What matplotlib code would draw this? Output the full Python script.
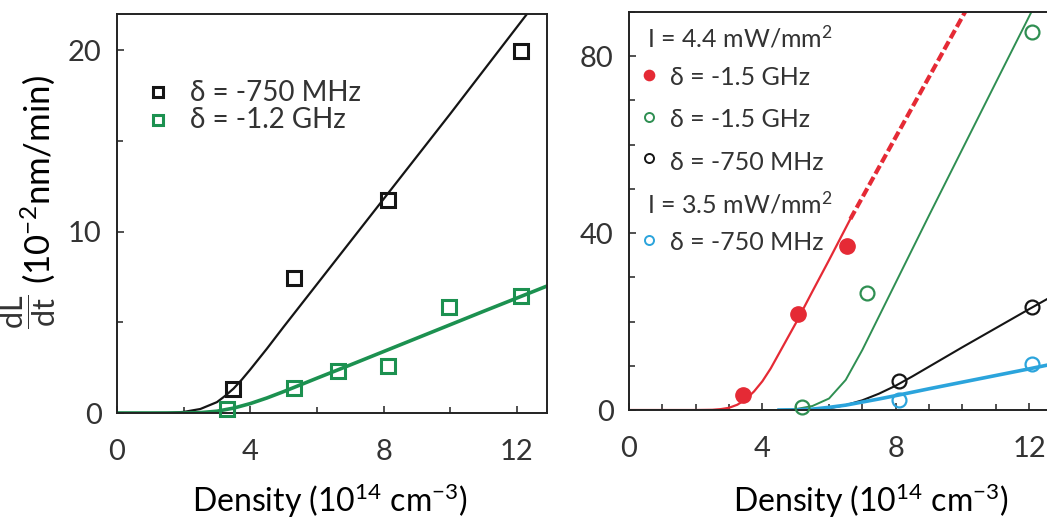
import matplotlib
matplotlib.use("Agg")
import matplotlib.pyplot as plt
from matplotlib.ticker import MultipleLocator

plt.rcParams['font.family'] = ['Lato', 'DejaVu Sans']
plt.rcParams['mathtext.fontset'] = 'custom'
plt.rcParams['mathtext.rm'] = 'Lato'
plt.rcParams['mathtext.it'] = 'Lato:italic'
plt.rcParams['text.color'] = '#333333'

# ---- left panel data ----
left_black_x = [3.47, 5.3, 8.12, 12.12]
left_black_y = [1.3, 7.45, 11.75, 19.95]
left_green_x = [3.3, 5.3, 6.62, 8.12, 9.95, 12.12]
left_green_y = [0.2, 1.4, 2.3, 2.6, 5.85, 6.45]

# fit curves
left_black_fit_x = [0, 1.0, 1.5, 2.0, 2.5, 3.0, 3.25, 3.5, 3.75, 4.0, 4.5, 5.0, 6.0, 8.0, 10.0, 12.3]
left_black_fit_y = [0, 0, 0.01, 0.06, 0.22, 0.6, 0.95, 1.35, 1.85, 2.4, 3.55, 4.75, 7.1, 11.8, 16.5, 22.0]
left_green_fit_x = [0, 2.0, 2.5, 3.0, 3.5, 4.0, 4.5, 5.0, 6.0, 7.0, 8.0, 9.0, 10.0, 11.0, 12.0, 12.9]
left_green_fit_y = [0, 0, 0.02, 0.1, 0.27, 0.52, 0.83, 1.18, 1.92, 2.65, 3.39, 4.13, 4.87, 5.61, 6.34, 7.0]

# ---- right panel data ----
red_x = [3.43, 5.08, 6.54]
red_y = [3.5, 21.7, 37.1]
green_x = [5.2, 7.15, 12.08]
green_y = [0.6, 26.5, 85.5]
black_x = [8.09, 12.09]
black_y = [6.5, 23.3]
blue_x = [8.09, 12.09]
blue_y = [2.2, 10.5]

red_fit_x = [0, 2.0, 2.5, 2.75, 3.0, 3.25, 3.5, 3.75, 4.0, 4.25, 4.5, 5.0, 5.5, 6.0, 6.64]
red_fit_y = [0, 0, 0.05, 0.2, 0.5, 1.2, 2.4, 4.2, 6.5, 9.4, 12.8, 19.6, 26.8, 33.9, 43.2]
red_dash_x = [6.64, 10.08]
red_dash_y = [43.2, 90]
green_fit_x = [0, 4.5, 5.0, 5.5, 6.0, 6.5, 7.0, 7.5, 8.0, 9.0, 10.0, 11.0, 12.07]
green_fit_y = [0, 0, 0.2, 0.9, 2.6, 6.8, 13.6, 21.2, 28.8, 44.0, 59.0, 74.0, 90.0]
black_fit_x = [5.0, 5.5, 6.0, 6.5, 7.0, 7.5, 8.0, 8.5, 9.0, 10.0, 11.0, 12.0, 12.9]
black_fit_y = [0, 0.1, 0.4, 1.1, 2.2, 3.7, 5.5, 7.6, 9.8, 14.2, 18.5, 22.8, 26.6]
blue_fit_x = [4.5, 5.0, 5.5, 6.0, 6.5, 7.0, 7.5, 8.0, 9.0, 10.0, 11.0, 12.0, 12.9]
blue_fit_y = [0, 0.02, 0.2, 0.6, 1.1, 1.8, 2.5, 3.25, 4.8, 6.3, 7.8, 9.3, 10.7]

xlabel = r'Density (10$^{14}$ cm$^{-3}$)'

c_black = '#151515'
c_green_l = '#1c9150'
c_green_r = '#2f8f52'
c_red = '#e52a35'
c_blue = '#2ba4dc'

fig = plt.figure(figsize=(10.47, 5.27), dpi=100)

def style_axes(ax, xminor, ymajor, yminor):
    for s in ax.spines.values():
        s.set_linewidth(1.4)
        s.set_color('#222222')
    ax.xaxis.set_major_locator(MultipleLocator(4))
    ax.xaxis.set_minor_locator(MultipleLocator(xminor))
    ax.yaxis.set_major_locator(MultipleLocator(ymajor))
    ax.yaxis.set_minor_locator(MultipleLocator(yminor))
    ax.tick_params(which='both', direction='in', top=False, right=False, width=1.2, color='#333333')
    ax.tick_params(which='major', length=5)
    ax.tick_params(which='minor', length=4)
    ax.tick_params(axis='x', which='major', pad=19, labelsize=21, labelcolor='#333333')
    ax.tick_params(axis='y', which='major', pad=11, labelsize=21, labelcolor='#333333')

# ---------------- left ----------------
ax1 = fig.add_axes([0.1117, 0.2163, 0.4107, 0.7571])
ax1.plot(left_black_fit_x, left_black_fit_y, color=c_black, lw=1.6, zorder=2)
ax1.plot(left_green_fit_x, left_green_fit_y, color=c_green_l, lw=2.6, zorder=2)
ax1.plot(left_black_x, left_black_y, 's', ms=9.5, mfc='none', mec=c_black, mew=2.2, zorder=3, clip_on=False)
ax1.plot(left_green_x, left_green_y, 's', ms=9.5, mfc='none', mec=c_green_l, mew=2.2, zorder=3, clip_on=False)
ax1.set_xlim(0, 12.9)
ax1.set_ylim(0, 22)
style_axes(ax1, 2, 10, 5)
ax1.set_xlabel(xlabel, fontsize=23)
ax1.xaxis.set_label_coords(0.495, -0.172)
ax1.set_ylabel(r'(10$^{-2}$nm/min)', fontsize=25)
ax1.yaxis.set_label_coords(-0.14, 0.586)
# dL/dt fraction sits in front of the unit text, raised a little
ax1.text(-0.206, 0.255, r'$\dfrac{\mathrm{dL}}{\mathrm{dt}}$', fontsize=22, rotation=90,
         ha='center', va='center', transform=ax1.transAxes, clip_on=False)

# legend (left)
leg_left = [('s', c_black, 'δ = -750 MHz', 0.805, 0.783),
            ('s', c_green_l, 'δ = -1.2 GHz', 0.734, 0.714)]
for m, c, label, ym, yt in leg_left:
    ax1.plot([0.0956], [ym], m, ms=7.5, mfc='none', mec=c, mew=2.2, transform=ax1.transAxes, clip_on=False)
    ax1.text(0.17, yt, label, fontsize=20, transform=ax1.transAxes, va='baseline', ha='left')

# ---------------- right ----------------
ax2 = fig.add_axes([0.6008, 0.222, 0.4107, 0.7552])
ax2.plot(red_fit_x, red_fit_y, color=c_red, lw=1.6, zorder=2)
ax2.plot(red_dash_x, red_dash_y, color=c_red, lw=3.0, ls=(0, (2.2, 0.9)), zorder=2)
ax2.plot(green_fit_x, green_fit_y, color=c_green_r, lw=1.4, zorder=2)
ax2.plot(black_fit_x, black_fit_y, color=c_black, lw=1.5, zorder=2)
ax2.plot(blue_fit_x, blue_fit_y, color=c_blue, lw=2.6, zorder=2)
ax2.plot(red_x, red_y, 'o', ms=11, mfc=c_red, mec=c_red, zorder=3, clip_on=False)
ax2.plot(green_x, green_y, 'o', ms=10, mfc='none', mec=c_green_r, mew=1.6, zorder=3, clip_on=False)
ax2.plot(black_x, black_y, 'o', ms=10, mfc='none', mec=c_black, mew=1.6, zorder=3, clip_on=False)
ax2.plot(blue_x, blue_y, 'o', ms=10, mfc='none', mec=c_blue, mew=1.6, zorder=3, clip_on=False)
ax2.set_xlim(0, 12.9)
ax2.set_ylim(0, 90)
style_axes(ax2, 1, 40, 10)
ax2.set_xlabel(xlabel, fontsize=23)
ax2.xaxis.set_label_coords(0.563, -0.178)

# legend (right)
ax2.text(0.041, 0.912, r'I = 4.4 mW/mm$^2$', fontsize=18, transform=ax2.transAxes, va='baseline')
ax2.text(0.041, 0.494, r'I = 3.5 mW/mm$^2$', fontsize=18, transform=ax2.transAxes, va='baseline')
leg_right = [(c_red, True, 'δ = -1.5 GHz', 0.841, 0.816),
             (c_green_r, False, 'δ = -1.5 GHz', 0.736, 0.711),
             (c_black, False, 'δ = -750 MHz', 0.632, 0.603),
             (c_blue, False, 'δ = -750 MHz', 0.427, 0.402)]
for c, filled, label, ym, yt in leg_right:
    ax2.plot([0.046], [ym], 'o', ms=7 if filled else 6.5, mfc=c if filled else 'none', mec=c, mew=1.4,
             transform=ax2.transAxes, clip_on=False)
    ax2.text(0.0953, yt, label, fontsize=18, transform=ax2.transAxes, va='baseline', ha='left')

fig.savefig('out.png', dpi=100)
